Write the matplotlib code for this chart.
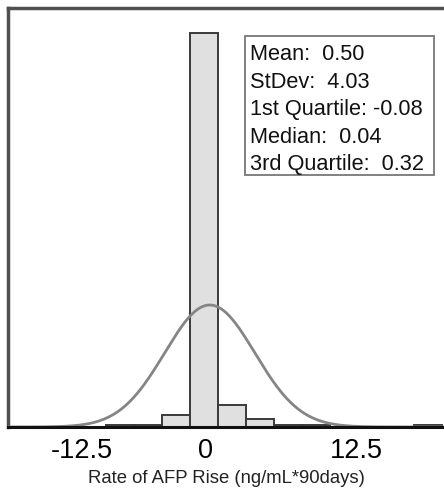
import numpy as np
import matplotlib.pyplot as plt
from matplotlib.patches import Rectangle

# histogram bins (bin width 2.5, centred on 0)
bin_left = [-8.75, -6.25, -3.75, -1.25, 1.25, 3.75, 6.25, 8.75, 18.75]
counts = [1, 1, 6, 197, 11, 4, 1, 1, 1]
bin_width = 2.5

# fitted normal curve
mean = 0.50
stdev = 4.03
curve_peak = 61

stats_text = ["Mean:  0.50", "StDev:  4.03", "1st Quartile: -0.08",
              "Median:  0.04", "3rd Quartile:  0.32"]

tick_labels = ["-12.5", "0", "12.5"]
tick_pos = [-10.9, 0.1, 13.6]

plt.rcParams['font.family'] = ['Liberation Sans', 'DejaVu Sans']

fig = plt.figure(figsize=(4.44, 4.94), dpi=100)
ax = fig.add_axes([8/444, 67/494, 1 - 8/444, 419/494])

ax.bar(bin_left, counts, width=bin_width, align='edge', color='#e0e0e0',
       edgecolor='#3a3a3a', linewidth=1.4, zorder=2)

x = np.linspace(-17.5, 21.5, 400)
y = curve_peak * np.exp(-0.5 * ((x - mean) / stdev) ** 2)
ax.plot(x, y, color='#858585', linewidth=2, zorder=3)

ax.set_xlim(-17.5, 21.4)
ax.set_ylim(0, 209.5)

ax.spines['right'].set_visible(False)
for s in ['left', 'top']:
    ax.spines[s].set_color('#505050')
    ax.spines[s].set_linewidth(2.5)
ax.spines['bottom'].set_color('#111111')
ax.spines['bottom'].set_linewidth(2.2)
ax.spines['bottom'].set_zorder(4)

ax.set_yticks([])
ax.set_xticks(tick_pos)
ax.set_xticklabels(tick_labels, fontsize=19.5)
ax.tick_params(axis='x', length=0, pad=8)
ax.set_xlabel("Rate of AFP Rise (ng/mL*90days)", fontsize=13.3, labelpad=4,
              color='#222222')

# stats box
ax.add_patch(Rectangle((0.5436, 0.601), 0.4334, 0.332, transform=ax.transAxes,
                       facecolor='white', edgecolor='#777777', linewidth=1.3,
                       zorder=5))
ax.text(0.556, 0.913, "\n".join(stats_text), transform=ax.transAxes,
        fontsize=15.7, va='top', ha='left', linespacing=1.4, color='#111111',
        zorder=6)

fig.savefig("out.png", dpi=100)
